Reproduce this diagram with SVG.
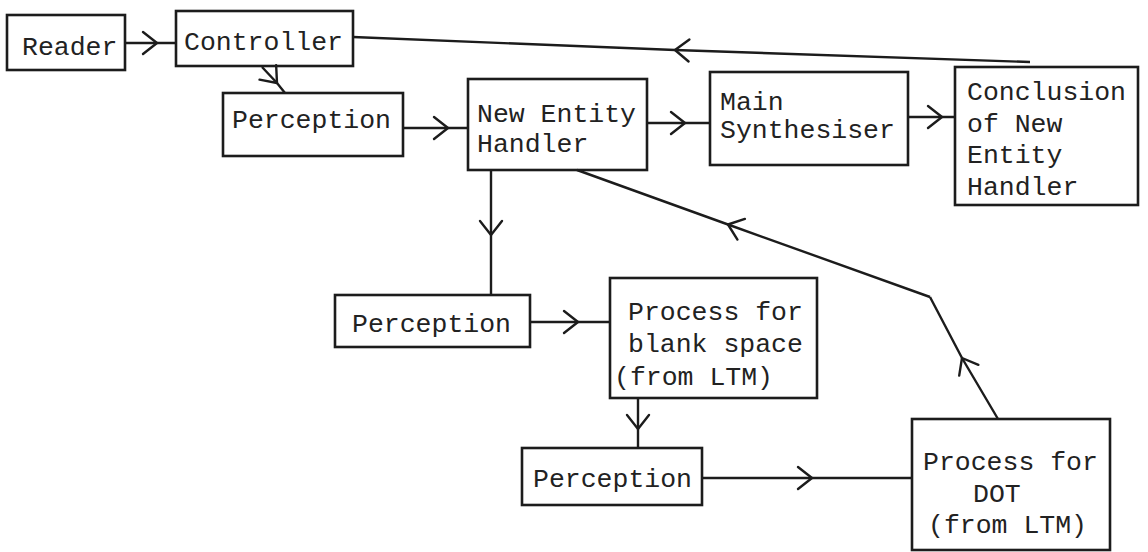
<svg xmlns="http://www.w3.org/2000/svg" width="1148" height="552" viewBox="0 0 1148 552">
  <style>
    .box { fill: none; stroke: #1c1c1c; stroke-width: 2.6; }
    .lbl { font-family: "Liberation Mono", "DejaVu Sans Mono", monospace; font-size: 26.5px; fill: #222; }
    .wire { fill: none; stroke: #1c1c1c; stroke-width: 2.4; marker-mid: url(#chev); }
    .head { fill: none; stroke: #1c1c1c; stroke-width: 2.4; stroke-linecap: round; stroke-linejoin: round; }
  </style>
  <defs>
    <!-- open chevron placed at the middle vertex of each connector -->
    <marker id="chev" markerUnits="userSpaceOnUse" markerWidth="40" markerHeight="40" viewBox="-20 -20 40 40" refX="0" refY="0" orient="auto" overflow="visible">
      <path class="head" d="M-14,-11 L0,0 L-14,11"/>
    </marker>
  </defs>
  <rect width="1148" height="552" fill="#ffffff"/>

  <g id="connectors">
    <polyline class="wire" points="125,43 157,43 176,43"/>
    <polyline class="wire" points="262,67 277,83 285,93"/>
    <polyline class="wire" points="403,128 448,128 468,128"/>
    <polyline class="wire" points="647,123 685,123 710,123"/>
    <polyline class="wire" points="908,117 942,117 955,117"/>
    <polyline class="wire" points="1030,62 675,50 353,37"/>
    <polyline class="wire" points="491,170 491,235 491,295"/>
    <polyline class="wire" points="530,322 578,322 610,322"/>
    <polyline class="wire" points="638,398 638,429 638,448"/>
    <polyline class="wire" points="702,478 812,478 912,478"/>
    <polyline class="wire" points="998,419 962,358 930,297"/>
    <polyline class="wire" points="930,297 728,224.5 577,170"/>
  </g>

  <g id="reader">
    <rect class="box" x="7" y="15" width="118" height="55"/>
    <text class="lbl" x="22" y="55">Reader</text>
  </g>
  <g id="controller">
    <rect class="box" x="176" y="11" width="177" height="55"/>
    <text class="lbl" x="184" y="50">Controller</text>
  </g>
  <g id="perception-1">
    <rect class="box" x="223" y="93" width="180" height="63"/>
    <text class="lbl" x="232" y="128">Perception</text>
  </g>
  <g id="new-entity-handler">
    <rect class="box" x="468" y="79" width="179" height="91"/>
    <text class="lbl" x="477" y="122">New Entity</text>
    <text class="lbl" x="477" y="152">Handler</text>
  </g>
  <g id="main-synthesiser">
    <rect class="box" x="710" y="72" width="198" height="93"/>
    <text class="lbl" x="720" y="110">Main</text>
    <text class="lbl" x="720" y="138">Synthesiser</text>
  </g>
  <g id="conclusion">
    <rect class="box" x="955" y="67" width="183" height="138"/>
    <text class="lbl" x="967" y="100">Conclusion</text>
    <text class="lbl" x="967" y="132">of New</text>
    <text class="lbl" x="967" y="163">Entity</text>
    <text class="lbl" x="967" y="195">Handler</text>
  </g>
  <g id="perception-2">
    <rect class="box" x="335" y="295" width="195" height="52"/>
    <text class="lbl" x="352" y="332">Perception</text>
  </g>
  <g id="blank-space-process">
    <rect class="box" x="610" y="278" width="207" height="120"/>
    <text class="lbl" x="628" y="320">Process for</text>
    <text class="lbl" x="628" y="352">blank space</text>
    <text class="lbl" x="614" y="385">(from LTM)</text>
  </g>
  <g id="perception-3">
    <rect class="box" x="522" y="448" width="180" height="57"/>
    <text class="lbl" x="533" y="487">Perception</text>
  </g>
  <g id="dot-process">
    <rect class="box" x="912" y="419" width="198" height="131"/>
    <text class="lbl" x="923" y="470">Process for</text>
    <text class="lbl" x="973" y="502">DOT</text>
    <text class="lbl" x="928" y="533">(from LTM)</text>
  </g>
</svg>
